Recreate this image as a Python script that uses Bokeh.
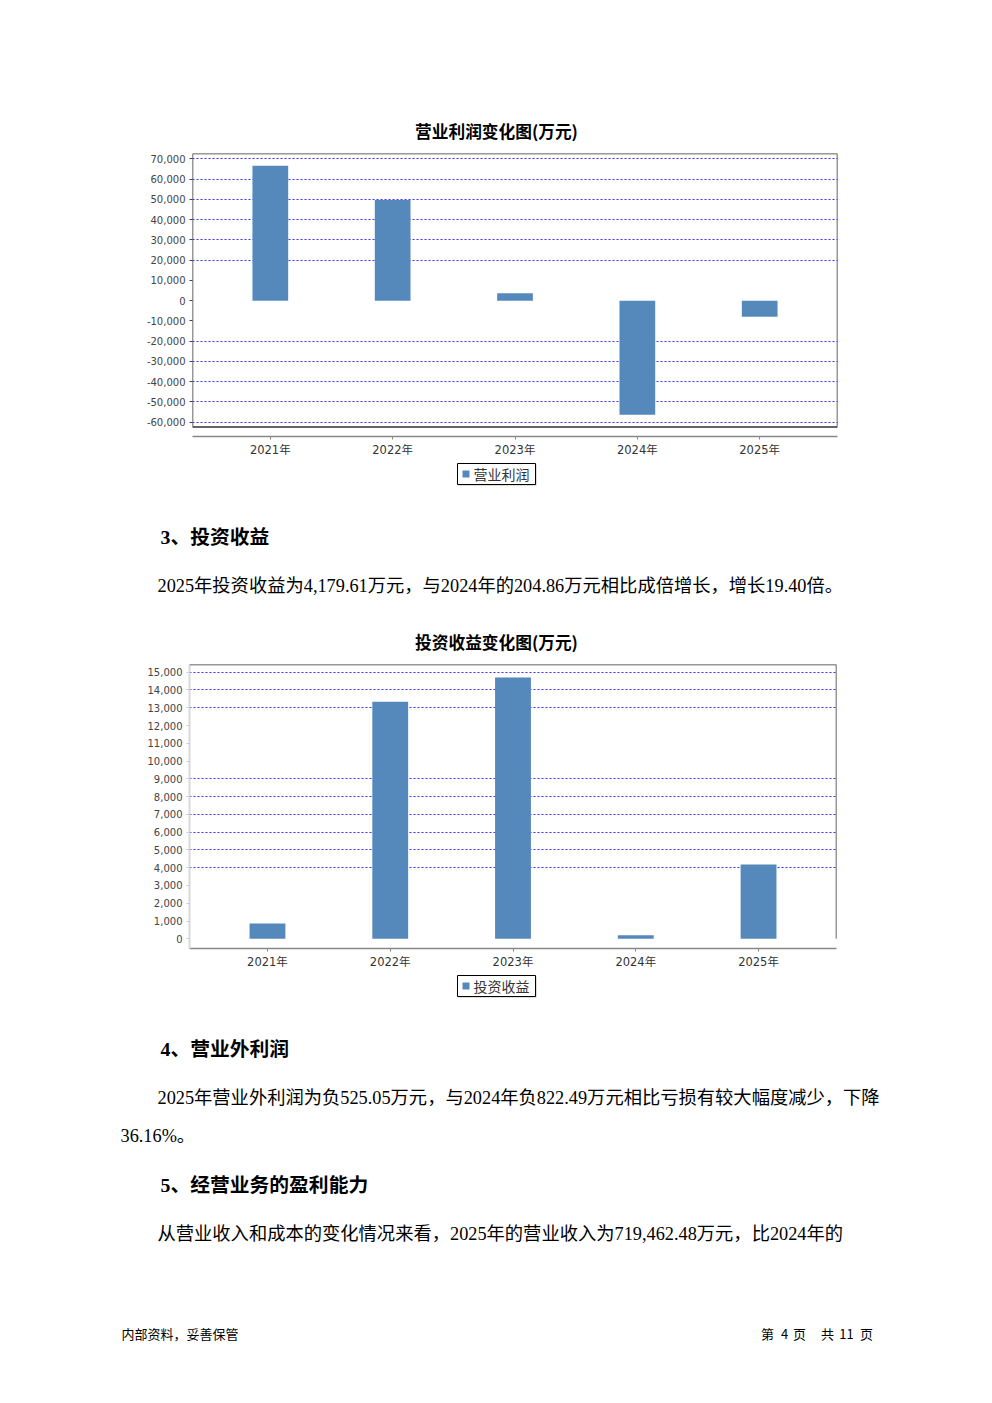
from bokeh.plotting import figure
from bokeh.models import Range1d, FixedTicker, NumeralTickFormatter, BoxAnnotation, Span
from bokeh.layouts import column
from bokeh.embed import file_html
from bokeh.resources import INLINE
from bokeh.core.properties import value

# ---------------- data ----------------
years = ["2021年", "2022年", "2023年", "2024年", "2025年"]
op_profit = [66500, 49600, 3600, -56300, -7900]          # 营业利润 (万元)
op_ticks = [-60000, -50000, -40000, -30000, -20000, -10000, 0,
            10000, 20000, 30000, 40000, 50000, 60000, 70000]
op_grid = [70000, 60000, 50000, 40000, 30000, 20000,
           -20000, -30000, -40000, -50000, -60000]

inv_income = [860, 13340, 14700, 204.86, 4179.61]        # 投资收益 (万元)
inv_ticks = [0, 1000, 2000, 3000, 4000, 5000, 6000, 7000, 8000,
             9000, 10000, 11000, 12000, 13000, 14000, 15000]
inv_grid = [15000, 14000, 13000, 9000, 8000, 7000, 6000, 5000, 4000]

title1 = "营业利润变化图(万元)"
title2 = "投资收益变化图(万元)"
legend1 = "营业利润"
legend2 = "投资收益"

W = 984
BAR = "#5588bb"
SANS = "DejaVu Sans, Noto Sans CJK SC"
CJK = "Noto Sans CJK SC"
SERIF = "Liberation Serif, Noto Sans CJK SC"
BODY = "18.3px"
HEAD = "19.8px"


def text_fig(h):
    p = figure(width=W, height=h, x_range=Range1d(0, W), y_range=Range1d(h, 0),
               output_backend="svg", toolbar_location=None, min_border=0,
               min_border_left=0, min_border_right=0, min_border_top=0, min_border_bottom=0,
               x_axis_location=None, y_axis_location=None)
    p.grid.visible = False
    p.outline_line_color = None
    return p


def put(p, x, y, s, size, font=SERIF, bold=False, align="left", color="black"):
    p.text(x=[x], y=[y], text=[s], text_font=value(font), text_font_size=value(size),
           text_font_style="bold" if bold else "normal", text_align=align,
           text_baseline="middle", text_color=color)


def legend_box(p, top, label):
    p.quad(left=[458], right=[536], top=[top + 1], bottom=[top + 22],
           fill_color="#bbbbbb", line_color=None)
    p.quad(left=[457], right=[535], top=[top], bottom=[top + 21],
           fill_color="white", line_color="black", line_width=1)
    p.quad(left=[462], right=[469], top=[top + 7], bottom=[top + 14],
           fill_color=BAR, line_color=None)
    put(p, 473, top + 10.5, label, "14px", font=CJK, color="#333333")


def chart(h, xr, yr, mb_left, mb_right, vals, ticks, grid):
    p = figure(width=W, height=h, x_range=Range1d(*xr), y_range=Range1d(*yr),
               output_backend="svg", toolbar_location=None,
               min_border_top=8, min_border_bottom=24,
               min_border_left=mb_left, min_border_right=mb_right)
    p.outline_line_color = None
    p.vbar(x=list(range(len(years))), top=vals, bottom=0, width=0.292,
           fill_color=BAR, line_color=None)
    p.xgrid.visible = False
    p.ygrid.ticker = FixedTicker(ticks=grid)
    p.ygrid.grid_line_color = "#3333ff"
    p.ygrid.grid_line_dash = "2 2"
    p.ygrid.grid_line_width = 1
    xa = p.xaxis[0]
    xa.ticker = FixedTicker(ticks=list(range(len(years))))
    xa.major_label_overrides = {i: y for i, y in enumerate(years)}
    xa.axis_line_color = "#888888"
    xa.axis_line_width = 1.5
    xa.major_tick_line_color = "#888888"
    xa.major_tick_out = 3
    xa.major_tick_in = 0
    xa.minor_tick_line_color = None
    xa.major_label_standoff = 3
    xa.major_label_text_font = SANS
    xa.major_label_text_font_size = "11.5px"
    xa.major_label_text_color = "#333333"
    ya = p.yaxis[0]
    ya.ticker = FixedTicker(ticks=ticks)
    ya.formatter = NumeralTickFormatter(format="0,0")
    ya.major_tick_out = 3
    ya.major_tick_in = 0
    ya.minor_tick_line_color = None
    ya.major_label_standoff = 4
    ya.major_label_text_font = SANS
    ya.major_label_text_font_size = "10px"
    ya.major_label_text_color = "#444444"
    return p


# ---------- top: title 1 ----------
f1 = text_fig(145)
put(f1, 496, 130, title1, "16.7px", font=CJK, bold=True, align="center")

# ---------- chart 1 ----------
p1 = chart(315, (-0.636, 4.636), (-67030, 72600), 192, W - 837, op_profit, op_ticks, op_grid)
p1.yaxis[0].axis_line_color = None
p1.yaxis[0].major_tick_line_color = "#444444"
p1.add_layout(BoxAnnotation(bottom=-62400, fill_color=None, fill_alpha=0,
                            line_color="#333333", line_alpha=1, line_width=1.5))

# ---------- middle text ----------
f3 = text_fig(196)
legend_box(f3, 3, legend1)
put(f3, 160, 76, "3、投资收益", HEAD, bold=True)
put(f3, 157, 125, "2025年投资收益为4,179.61万元，与2024年的204.86万元相比成倍增长，增长19.40倍。", BODY)
put(f3, 496, 181, title2, "16.7px", font=CJK, bold=True, align="center")

# ---------- chart 2 ----------
p2 = chart(316, (-0.635, 4.635), (-546, 15432), 189, W - 836, inv_income, inv_ticks, inv_grid)
p2.yaxis[0].axis_line_color = "#d9d9d9"
p2.yaxis[0].axis_line_width = 2
p2.yaxis[0].major_tick_line_color = "#cccccc"
p2.add_layout(Span(location=15432, dimension="width", line_color="#333333", line_width=1.5))
p2.add_layout(BoxAnnotation(left=4.635, right=4.635, bottom=0, top=15432,
                            fill_color=None, fill_alpha=0,
                            line_color="#333333", line_alpha=1, line_width=1.5))

# ---------- bottom text ----------
f5 = text_fig(420)
legend_box(f5, 3, legend2)
put(f5, 160, 76, "4、营业外利润", HEAD, bold=True)
put(f5, 157, 125, "2025年营业外利润为负525.05万元，与2024年负822.49万元相比亏损有较大幅度减少，下降", BODY)
put(f5, 120, 163, "36.16%。", BODY)
put(f5, 160, 212, "5、经营业务的盈利能力", HEAD, bold=True)
put(f5, 157, 261, "从营业收入和成本的变化情况来看，2025年的营业收入为719,462.48万元，比2024年的", BODY)
put(f5, 121, 361, "内部资料，妥善保管", "13px", font=CJK)
for x, s in [(767, "第"), (784, "4"), (799, "页"), (827, "共"), (846, "11"), (866, "页")]:
    put(f5, x, 361, s, "13px", font=CJK, align="center")

# wrap each figure on its own so that frames are not aligned across the page
layout = column(*[column(f, spacing=0) for f in (f1, p1, f3, p2, f5)], spacing=0)
open("out.html", "w").write(file_html(layout, INLINE))
